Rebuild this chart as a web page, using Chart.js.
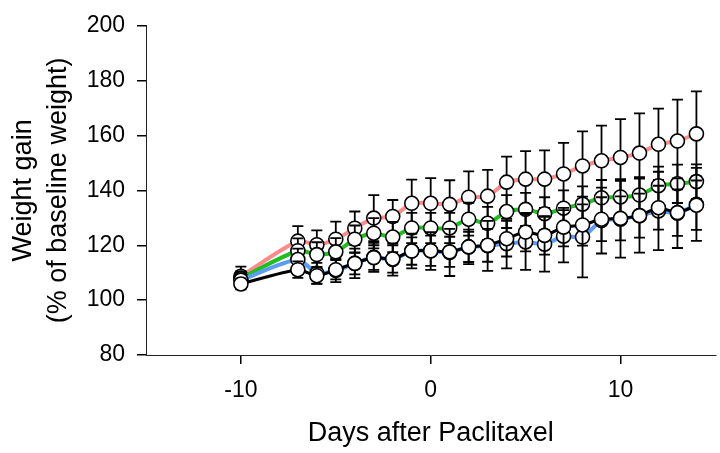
<!DOCTYPE html>
<html>
<head>
<meta charset="utf-8">
<script src="https://cdn.jsdelivr.net/npm/chart.js@4"></script>
<style>
  html, body { margin: 0; padding: 0; background: #fff; overflow: hidden; width: 720px; height: 453px; }
  canvas { display: block; }
</style>
</head>
<body>
<canvas id="c" width="724" height="453"></canvas>
<script>
// ---- data ----
const days = [-10, -7, -6, -5, -4, -3, -2, -1, 0, 1, 2, 3, 4, 5, 6, 7, 8, 9, 10, 11, 12, 13, 14];

const redMean   = [108.7, 121.5, 120.2, 122.2, 126.2, 129.9, 130.5, 135.3, 135.3, 134.9, 137.5, 137.9, 143.0, 144.1, 144.1, 146.0, 148.9, 150.8, 152.0, 153.6, 156.8, 158.0, 160.6];
const redErr    = [3.5, 5.5, 5.2, 6.4, 6.1, 8.4, 6.0, 8.6, 9.2, 8.8, 9.4, 9.6, 9.3, 10.2, 10.5, 11.3, 12.6, 12.8, 14.0, 14.5, 13.0, 15.1, 15.5];

const greenMean = [108.0, 118.0, 116.6, 117.6, 122.2, 124.4, 123.0, 126.3, 126.3, 126.3, 129.5, 128.0, 132.3, 133.1, 131.5, 133.5, 135.0, 137.3, 137.6, 138.3, 141.7, 142.4, 143.2];
const greenErr  = [2.5, 4.5, 4.5, 5.0, 5.0, 5.5, 5.5, 5.5, 5.5, 5.5, 6.0, 6.0, 6.0, 6.0, 6.0, 6.5, 6.5, 6.5, 6.5, 6.5, 7.0, 7.0, 6.3];

const blueMean  = [107.3, 114.8, 109.8, 110.8, 113.4, 115.6, 114.8, 117.9, 117.9, 117.4, 119.4, 119.8, 120.6, 121.2, 120.4, 123.3, 123.0, 129.0, 129.5, 130.8, 132.5, 131.7, 134.9];
const blueErr   = [2.5, 4.0, 3.8, 4.2, 5.4, 5.3, 5.9, 6.3, 6.9, 8.6, 6.3, 9.1, 9.0, 10.2, 10.0, 9.5, 14.7, 12.0, 14.0, 13.5, 14.3, 12.7, 13.3];

const blackMean = [105.9, 111.1, 108.9, 111.1, 113.4, 115.5, 115.0, 117.9, 118.0, 117.6, 119.4, 120.0, 122.4, 124.8, 123.6, 126.6, 127.4, 129.5, 129.8, 130.8, 133.7, 131.9, 134.6];
const blackErr  = [2.0, 3.0, 3.0, 3.5, 4.0, 4.5, 5.0, 5.0, 5.5, 5.5, 5.5, 6.0, 6.5, 7.0, 7.0, 7.0, 7.5, 8.0, 8.0, 8.0, 8.0, 8.5, 9.0];

const xTicks = [-10, 0, 10];
const yTicks = [80, 100, 120, 140, 160, 180, 200];
const xTitle = 'Days after Paclitaxel';
const yTitle = ['Weight gain', '(% of baseline weight)'];

// ---- chart ----
const FONT = "'Liberation Sans', Arial, sans-serif";

function pts(mean) { return days.map((d, i) => ({ x: d, y: mean[i] })); }

function series(label, mean, err, color, width, order) {
  return {
    label, data: pts(mean), errors: err,
    borderColor: color, borderWidth: width,
    tension: 0.25,
    pointRadius: 7, pointBackgroundColor: '#ffffff',
    pointBorderColor: '#000000', pointBorderWidth: 1.6,
    order
  };
}

const errorBars = {
  id: 'errorBars',
  beforeDatasetDraw(chart, args) {
    const ds = chart.data.datasets[args.index];
    const xs = chart.scales.x, ys = chart.scales.y;
    const ctx = chart.ctx;
    ctx.save();
    ctx.strokeStyle = '#000';
    ctx.lineWidth = 1.8;
    const cap = 5.5;
    ds.data.forEach((p, i) => {
      const e = ds.errors[i];
      const x = xs.getPixelForValue(p.x);
      const y1 = ys.getPixelForValue(p.y + e);
      const y2 = ys.getPixelForValue(p.y - e);
      ctx.beginPath();
      ctx.moveTo(x, y1); ctx.lineTo(x, y2);
      ctx.moveTo(x - cap, y1); ctx.lineTo(x + cap, y1);
      ctx.moveTo(x - cap, y2); ctx.lineTo(x + cap, y2);
      ctx.stroke();
    });
    ctx.restore();
  }
};

new Chart(document.getElementById('c'), {
  type: 'line',
  data: {
    datasets: [
      series('Red', redMean, redErr, '#ff8a8a', 4, 3),
      series('Green', greenMean, greenErr, '#1fbf1f', 4, 2),
      series('Blue', blueMean, blueErr, '#5a9cf8', 4, 1),
      series('Black', blackMean, blackErr, '#000000', 3, 0)
    ]
  },
  options: {
    responsive: false,
    animation: false,
    layout: { padding: { top: 20, left: 0, right: 0, bottom: 0 } },
    plugins: { legend: { display: false }, tooltip: { enabled: false } },
    scales: {
      x: {
        type: 'linear', min: -15, max: 15,
        afterBuildTicks: s => { s.ticks = xTicks.map(v => ({ value: v })); },
        afterFit: s => { s.height = 98; },
        grid: { drawOnChartArea: false, drawTicks: true, tickLength: 9, color: '#000', lineWidth: 1.5 },
        border: { display: true, color: '#222', width: 1 },
        ticks: { color: '#000', font: { family: FONT, size: 23 }, padding: 13, maxRotation: 0 },
        title: { display: true, text: xTitle, color: '#000', font: { family: FONT, size: 27 }, padding: { top: 0, bottom: 3 } }
      },
      y: {
        type: 'linear', min: 80, max: 200,
        afterBuildTicks: s => { s.ticks = yTicks.map(v => ({ value: v })); },
        afterFit: s => { s.width = 146; },
        grid: { drawOnChartArea: false, drawTicks: true, tickLength: 9, color: '#000', lineWidth: 1.5 },
        border: { display: true, color: '#222', width: 1 },
        ticks: { color: '#000', font: { family: FONT, size: 23 }, padding: 12 },
        title: { display: true, text: yTitle, color: '#000', font: { family: FONT, size: 27, lineHeight: 1.3 }, padding: { top: 6, bottom: 0 } }
      }
    }
  },
  plugins: [errorBars]
});
</script>
</body>
</html>
